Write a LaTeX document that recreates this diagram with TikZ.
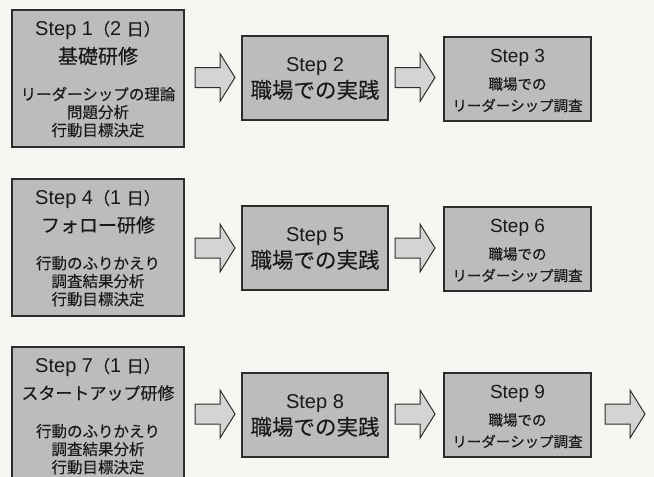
\documentclass[tikz,border=0pt]{standalone}
\usepackage{fontspec}
\setmainfont{Liberation Sans}
\newfontfamily\jp[FakeBold=0.2]{Noto Sans CJK JP}
\definecolor{bgc}{RGB}{246,246,243}
\definecolor{boxc}{RGB}{188,188,186}
\definecolor{arrc}{RGB}{212,212,210}
\definecolor{bordc}{RGB}{45,45,45}
\definecolor{txtc}{RGB}{25,25,25}
\begin{document}
\begin{tikzpicture}[x=1pt,y=-1pt,
  box/.style={draw=bordc, fill=boxc, line width=1.3pt, inner sep=0pt},
  boxA/.style={box, minimum width=172pt, minimum height=137pt},
  boxB/.style={box, minimum width=146pt, minimum height=84pt},
  boxC/.style={box, minimum width=147pt, minimum height=84pt},
  tx/.style={inner sep=0pt, anchor=base, text=txtc},
  stepA/.style={tx, font=\fontsize{20}{24}\selectfont},
  stepC/.style={tx, font=\fontsize{19}{23}\selectfont},
  jpA/.style={tx, font=\jp\fontsize{15.5}{18}\selectfont},
  jpB/.style={tx, font=\jp\fontsize{21.5}{25}\selectfont},
  jpC/.style={tx, font=\jp\fontsize{14.5}{17}\selectfont},
  blockarrow/.style={draw=bordc, fill=arrc, line width=1pt, line join=miter}
]
\useasboundingbox (0,0) rectangle (654,477);
\clip (0,0) rectangle (654,477);
\fill[bgc] (0,0) rectangle (654,477);

\newcommand{\parenjp}[2]{{\jp\fontsize{17}{20}\selectfont （}#1 {\jp\fontsize{17}{20}\selectfont #2）}}

% ---------- Row 1 ----------
\node[boxA] (b1) at (98,78.5) {};
\node[stepA] (s1) at (98,35.5) {Step 1\parenjp{2}{日}};
\node[tx, font=\jp\fontsize{20}{24}\selectfont] (t1) at (98,63.6) {基礎研修};
\node[jpA] (l1a) at (98,100) {リーダーシップの理論};
\node[jpA] (l1b) at (98,118) {問題分析};
\node[jpA] (l1c) at (98,136) {行動目標決定};

\node[boxB] (b2) at (315,78) {};
\node[stepA] (s2) at (315,71.5) {Step 2};
\node[jpB] (t2) at (315,98) {職場での実践};

\node[boxC] (b3) at (517.5,79) {};
\node[stepC] (s3) at (517.5,62) {Step 3};
\node[jpC] (l3a) at (517.5,89.5) {職場での};
\node[jpC] (l3b) at (517.5,111) {リーダーシップ調査};

\coordinate (a1) at (215,77.5);
\coordinate (a2) at (415,77.5);

% ---------- Row 2 ----------
\node[boxA] (b4) at (98,247.5) {};
\node[stepA] (s4) at (98,204.5) {Step 4\parenjp{1}{日}};
\node[tx, font=\jp\fontsize{19}{23}\selectfont] (t4) at (98,232.2) {フォロー研修};
\node[jpA] (l4a) at (98,269) {行動のふりかえり};
\node[jpA] (l4b) at (98,287) {調査結果分析};
\node[jpA] (l4c) at (98,305) {行動目標決定};

\node[boxB] (b5) at (315,248) {};
\node[stepA] (s5) at (315,241.5) {Step 5};
\node[jpB] (t5) at (315,268) {職場での実践};

\node[boxC] (b6) at (517.5,249) {};
\node[stepC] (s6) at (517.5,232) {Step 6};
\node[jpC] (l6a) at (517.5,259.5) {職場での};
\node[jpC] (l6b) at (517.5,281) {リーダーシップ調査};

\coordinate (a3) at (215,248);
\coordinate (a4) at (415,248);

% ---------- Row 3 ----------
\node[boxA] (b7) at (98,415.5) {};
\node[stepA] (s7) at (98,372.5) {Step 7\parenjp{1}{日}};
\node[tx, font=\jp\fontsize{17}{20}\selectfont] (t7) at (98,399.5) {スタートアップ研修};
\node[jpA] (l7a) at (98,437) {行動のふりかえり};
\node[jpA] (l7b) at (98,455) {調査結果分析};
\node[jpA] (l7c) at (98,473) {行動目標決定};

\node[boxB] (b8) at (315,415) {};
\node[stepA] (s8) at (315,408.5) {Step 8};
\node[jpB] (t8) at (315,435) {職場での実践};

\node[boxC] (b9) at (517.5,415) {};
\node[stepC] (s9) at (517.5,398) {Step 9};
\node[jpC] (l9a) at (517.5,425.5) {職場での};
\node[jpC] (l9b) at (517.5,447) {リーダーシップ調査};

\coordinate (a5) at (215,414);
\coordinate (a6) at (415,414);
\coordinate (a7) at (625,414);

% ---------- block arrows ----------
\foreach \c in {a1,a2,a3,a4,a5,a6,a7}{
  \draw[blockarrow, shift={(\c)}] (-20,-10) -- (5,-10) -- (5,-24) -- (20,0) -- (5,24) -- (5,10) -- (-20,10) -- cycle;
}
\end{tikzpicture}
\end{document}
